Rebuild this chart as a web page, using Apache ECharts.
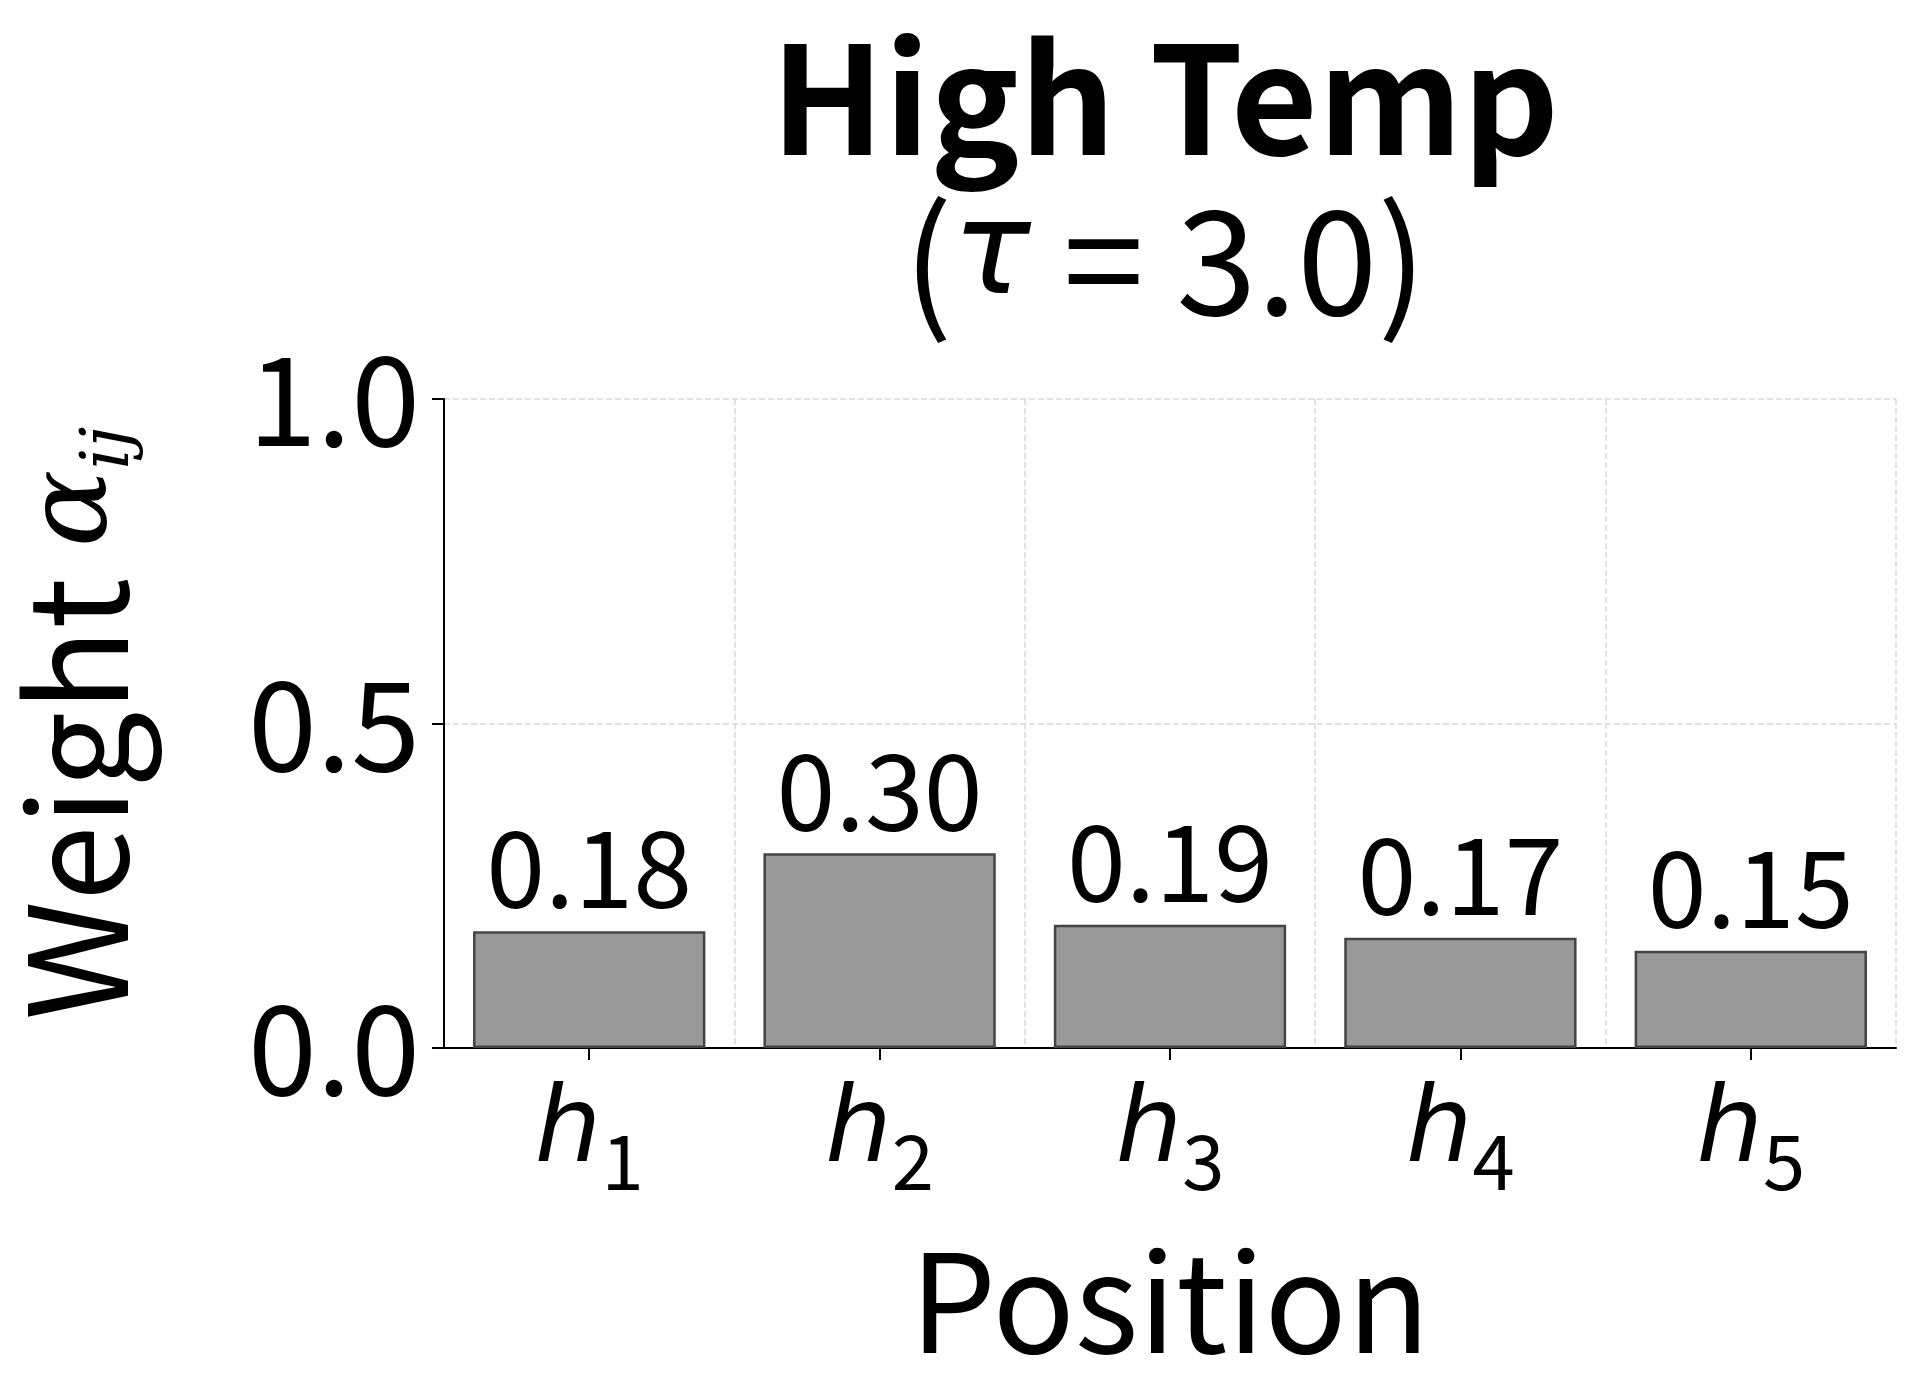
<!DOCTYPE html>
<html><head><meta charset="utf-8">
<script src="https://cdn.jsdelivr.net/npm/echarts@6/dist/echarts.min.js"></script>
<style>html,body{margin:0;background:#fff}#c{width:1920px;height:1380px}</style>
</head><body><div id="c"></div>
<script>
const categories = ['1','2','3','4','5'];
const weights = [0.18, 0.30, 0.19, 0.17, 0.15];
const yTicks = [0, 0.5, 1.0];
const F = '"Noto Sans CJK JP","Noto Sans",sans-serif';
const chart = echarts.init(document.getElementById('c'));
chart.setOption({
  animation:false,
  title:{
    text:'High Temp', left:1160, top:18, textAlign:'center',
    textStyle:{fontFamily:F,fontSize:150,fontWeight:'bold',color:'#000'},
    subtext:'{p|(}{t|τ}{p| = 3.0)}', subtextStyle:{rich:{
      p:{fontFamily:F,fontSize:145,color:'#000'},
      t:{fontFamily:'DejaVu Sans',fontStyle:'italic',fontSize:130,color:'#000'}}},
    itemGap:14
  },
  grid:{left:382,right:24,top:399,bottom:332},
  xAxis:{
    type:'category', data:categories,
    name:'Position', nameLocation:'middle', nameGap:185,
    nameTextStyle:{fontFamily:F,fontSize:136,color:'#000'},
    axisLine:{lineStyle:{color:'#000',width:2}},
    axisTick:{show:true,alignWithLabel:true,length:12,lineStyle:{color:'#000',width:2}},
    axisLabel:{margin:20,formatter:v=>'{h|h}{s|'+v+'}',rich:{
      h:{fontFamily:'DejaVu Sans',fontStyle:'italic',fontSize:105,color:'#000'},
      s:{fontFamily:F,fontSize:76,color:'#000',verticalAlign:'bottom',padding:[55,0,0,0]}}},
    splitLine:{show:true,lineStyle:{type:'dashed',color:'#d8d8d8',width:1.5}}
  },
  yAxis:{
    type:'value', min:0, max:1, interval:0.5,
    name:'{w|Weight }{a|α}{s|ij}', nameLocation:'middle', nameGap:300, nameRotate:90,
    nameTextStyle:{rich:{
      w:{fontFamily:F,fontSize:136,color:'#000'},
      a:{fontFamily:'DejaVu Serif',fontStyle:'italic',fontSize:115,color:'#000'},
      s:{fontFamily:'DejaVu Serif',fontStyle:'italic',fontSize:68,color:'#000',verticalAlign:'bottom',padding:[60,0,0,0]}}},
    axisLine:{show:true,lineStyle:{color:'#000',width:2}},
    axisTick:{show:true,length:12,lineStyle:{color:'#000',width:2}},
    axisLabel:{margin:24,formatter:v=>v.toFixed(1),fontFamily:F,fontSize:124,color:'#000'},
    splitLine:{show:true,lineStyle:{type:'dashed',color:'#d8d8d8',width:1.5}}
  },
  series:[{
    type:'bar', data:weights, barWidth:'80%',
    itemStyle:{color:'#999999',borderColor:'#444',borderWidth:2.5},
    label:{show:true,position:'top',distance:10,formatter:p=>p.value.toFixed(2),
      fontFamily:F,fontSize:106,color:'#000'}
  }]
});
</script></body></html>
